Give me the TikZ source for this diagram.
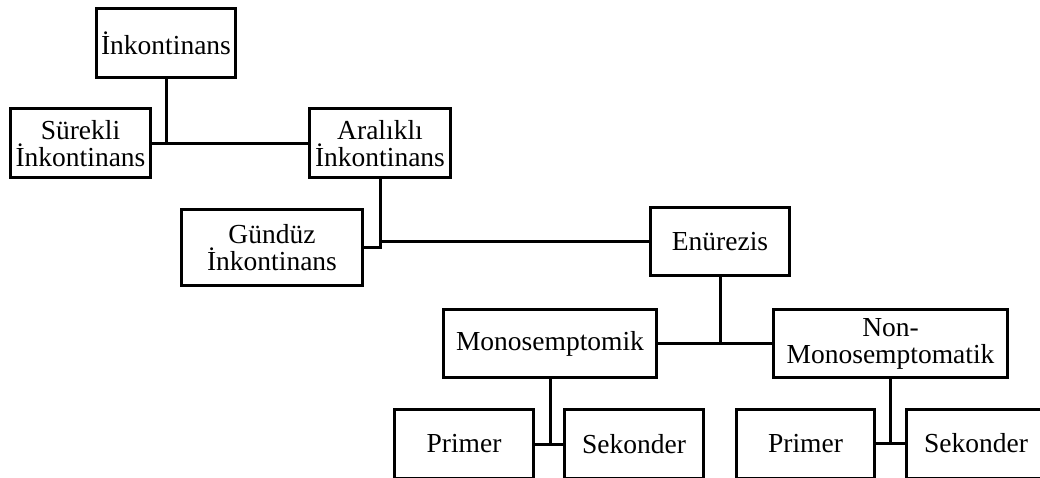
\documentclass[tikz,border=0pt]{standalone}
\usepackage{fontspec}
\setmainfont{Liberation Serif}

\begin{document}
\begin{tikzpicture}[x=1pt, y=-1pt,
        box/.style={rectangle, draw, line width=3pt, align=center, inner sep=2pt,
            minimum height=69pt, font=\fontsize{27.5}{27}\selectfont},
        link/.style={line width=3pt}]
        \clip (0, 0) rectangle (1040, 478);

        % Nodes
        \node (ink) [box, minimum width=139pt] at (166, 43) {İnkontinans};
        \node (sur) [box, minimum width=140pt] at (80.5, 143.5) {Sürekli\\İnkontinans};
        \node (ara) [box, minimum width=141pt] at (380, 143.5) {Aralıklı\\İnkontinans};
        \node (gun) [box, minimum width=181pt, minimum height=76pt] at (272, 247.5) {Gündüz\\İnkontinans};
        \node (enu) [box, minimum width=139pt, minimum height=68pt] at (720, 241.5) {Enürezis};
        \node (mono) [box, minimum width=213pt, minimum height=68pt] at (550, 343.5) {Monosemptomik};
        \node (non) [box, minimum width=234pt, minimum height=68pt] at (890.5, 343.5) {Non-\\Monosemptomatik};
        \node (prim1) [box, minimum width=139pt] at (464, 444) {Primer};
        \node (sek1) [box, minimum width=139pt] at (634, 444) {Sekonder};
        \node (prim2) [box, minimum width=138pt] at (805.5, 443.5) {Primer};
        \node (sek2) [box, minimum width=139pt] at (976, 443.5) {Sekonder};

        % Edges
        \draw[link] (sur.east) -- (ara.west);
        \draw[link] (ink.south) -- (ink.south |- sur.east);
        \draw[link] (ara.south) -- (ara.south |- gun.east) -- (gun.east);
        \draw[link] (ara.south |- enu.west) -- (enu.west);
        \draw[link] (mono.east) -- (non.west);
        \draw[link] (enu.south) -- (enu.south |- mono.east);
        \draw[link] (prim1.east) -- (sek1.west);
        \draw[link] (mono.south) -- (mono.south |- prim1.east);
        \draw[link] (prim2.east) -- (sek2.west);
        \draw[link] (non.south) -- (non.south |- prim2.east);

    \end{tikzpicture}
\end{document}
